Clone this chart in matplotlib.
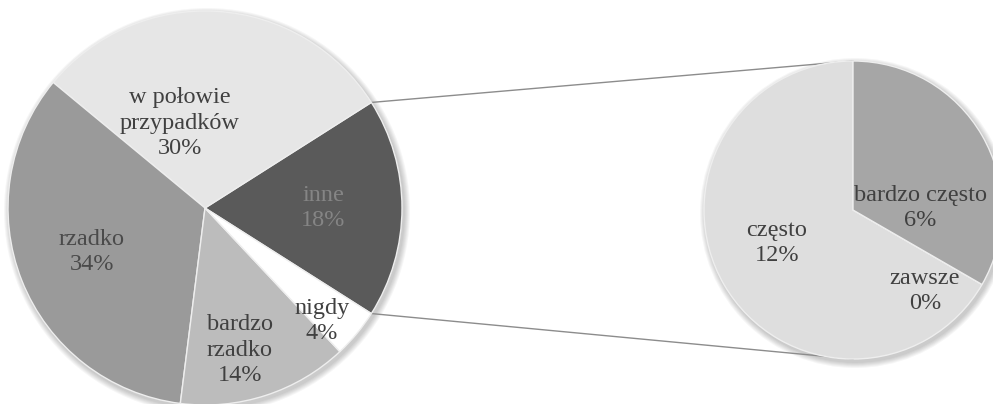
import numpy as np
import matplotlib
matplotlib.use("Agg")
import matplotlib.pyplot as plt
from matplotlib.patches import Circle

# main pie (the "inne" slice is split in the small pie)
main_labels = ["inne", "w połowie\nprzypadków", "rzadko", "bardzo\nrzadko", "nigdy"]
main_values = [18, 30, 34, 14, 4]
main_colors = ["#5a5a5a", "#e6e6e6", "#9a9a9a", "#bcbcbc", "#ffffff"]

# secondary pie
sub_labels = ["często", "zawsze", "bardzo często"]
sub_values = [12, 0, 6]
sub_colors = ["#dedede", "#d0d0d0", "#a6a6a6"]

W, H = 993, 404
fig = plt.figure(figsize=(W / 100, H / 100), dpi=100)
ax = fig.add_axes([0, 0, 1, 1])
ax.set_xlim(0, W)
ax.set_ylim(0, H)
ax.set_aspect("equal")
ax.axis("off")

c1, r1 = (205, H - 208), 197
c2, r2 = (853, H - 210), 149

# soft shadow under both pies
for c, r in [(c1, r1), (c2, r2)]:
    for k in range(6):
        ax.add_patch(Circle((c[0] + 2, c[1] - 3), r + 1 + k, color="#000000",
                            alpha=0.035, lw=0, zorder=0))

start1 = -main_values[0] / sum(main_values) * 360 / 2
wedges1, _ = ax.pie(main_values, colors=main_colors, center=c1, radius=r1,
                    startangle=start1, counterclock=True,
                    wedgeprops=dict(edgecolor="#eeeeee", linewidth=1.0, zorder=2))
wedges2, _ = ax.pie(sub_values, colors=sub_colors, center=c2, radius=r2,
                    startangle=90, counterclock=True,
                    wedgeprops=dict(edgecolor="#eeeeee", linewidth=1.0, zorder=2))
ax.set_xlim(0, W)
ax.set_ylim(0, H)

# connector lines from the "inne" slice to the small pie
a_top = np.radians(wedges1[0].theta2)
a_bot = np.radians(wedges1[0].theta1)
ax.plot([c1[0] + r1 * np.cos(a_top), c2[0]], [c1[1] + r1 * np.sin(a_top), c2[1] + r2],
        color="#8c8c8c", lw=1.0, zorder=1)
ax.plot([c1[0] + r1 * np.cos(a_bot), c2[0]], [c1[1] + r1 * np.sin(a_bot), c2[1] - r2],
        color="#8c8c8c", lw=1.0, zorder=1)

font = dict(family="Liberation Serif", fontsize=17.5, ha="center", va="center",
            linespacing=1.3, zorder=5)
main_pos = [(323, 208), (180, 123), (92, 252), (240, 350), (322, 321)]
main_txt = ["#858585", "#404040", "#4a4a4a", "#404040", "#404040"]
for lab, val, (x, y), col in zip(main_labels, main_values, main_pos, main_txt):
    ax.text(x, H - y, f"{lab}\n{val}%", color=col, **font)

sub_pos = [(777, 243), (925, 291), (920, 208)]
for lab, val, (x, y) in zip(sub_labels, sub_values, sub_pos):
    ax.text(x, H - y, f"{lab}\n{val}%", color="#404040", **font)

fig.savefig("out.png", dpi=100)
